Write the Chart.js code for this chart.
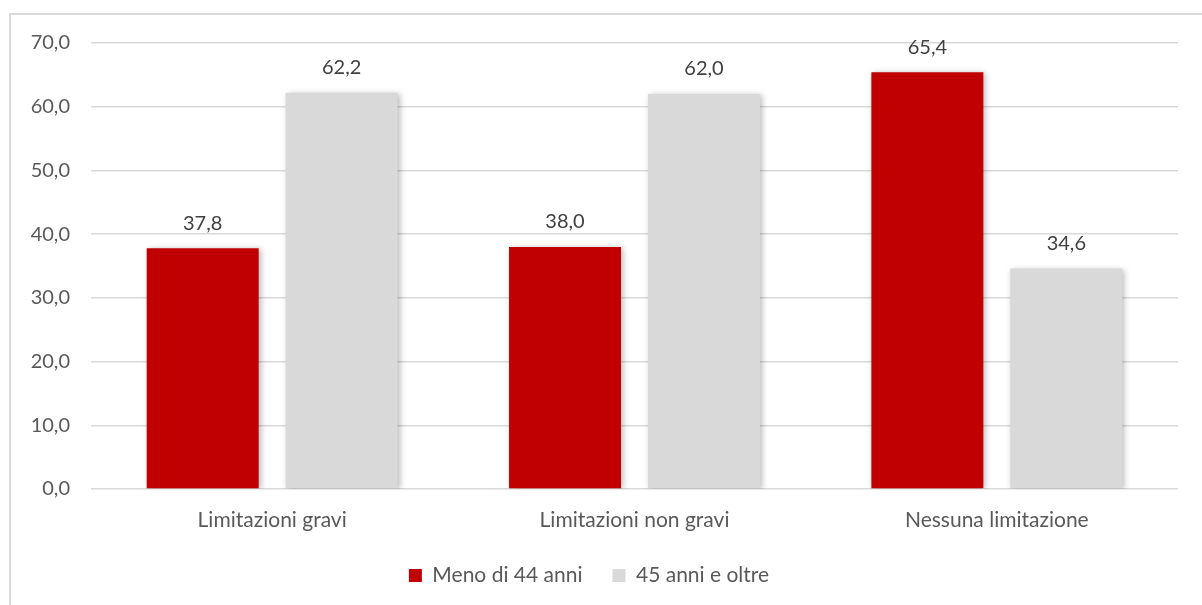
<!DOCTYPE html>
<html>
<head>
<meta charset="utf-8">
<script src="https://cdn.jsdelivr.net/npm/chart.js@4.4.0/dist/chart.umd.min.js"></script>
<style>
  body { margin: 0; background: #fff; overflow: hidden; }
  #frame { position: absolute; left: 9px; top: 13px; width: 1300px; height: 700px; border: 2px solid #d9d9d9; }
  #wrap { position: absolute; left: 0; top: 0; width: 1202px; height: 605px; }
</style>
</head>
<body>
<div id="frame"></div>
<div id="wrap"><canvas id="myChart"></canvas></div>
<script>
var categories = ["Limitazioni gravi", "Limitazioni non gravi", "Nessuna limitazione"];
var under44 = [37.8, 38.0, 65.4];
var over45 = [62.2, 62.0, 34.6];
var seriesNames = ["Meno di 44 anni", "45 anni e oltre"];

var FONT = 'Lato, "Open Sans", sans-serif';

function fmt(v) {
    return v.toFixed(1).replace('.', ',');
}

// soft shadow behind the bars
var barShadow = {
    id: 'barShadow',
    beforeDatasetsDraw: function (chart) {
        var ctx = chart.ctx;
        ctx.save();
        ctx.shadowColor = 'rgba(0,0,0,0.28)';
        ctx.shadowBlur = 6;
        ctx.shadowOffsetX = 2;
        ctx.shadowOffsetY = 1;
    },
    afterDatasetsDraw: function (chart) {
        chart.ctx.restore();
    }
};

// value labels above each bar
var valueLabels = {
    id: 'valueLabels',
    afterDatasetsDraw: function (chart) {
        var ctx = chart.ctx;
        ctx.save();
        ctx.font = '20px ' + FONT;
        ctx.fillStyle = '#404040';
        ctx.textAlign = 'center';
        ctx.textBaseline = 'middle';
        chart.data.datasets.forEach(function (ds, i) {
            chart.getDatasetMeta(i).data.forEach(function (bar, j) {
                ctx.fillText(fmt(ds.data[j]), bar.x, bar.y - 25);
            });
        });
        ctx.restore();
    }
};

function renderChart() {
    var ctx = document.getElementById("myChart").getContext('2d');
    var myChart = new Chart(ctx, {
        type: 'bar',
        data: {
            labels: categories,
            datasets: [{
                label: seriesNames[0],
                data: under44,
                backgroundColor: '#C00000'
            }, {
                label: seriesNames[1],
                data: over45,
                backgroundColor: '#D9D9D9'
            }]
        },
        options: {
            responsive: true,
            maintainAspectRatio: false,
            animation: false,
            categoryPercentage: 0.767,
            barPercentage: 0.806,
            layout: { padding: { top: 43, right: 24, left: 0, bottom: 9 } },
            scales: {
                x: {
                    grid: { display: false },
                    border: { display: false },
                    ticks: {
                        color: '#595959',
                        font: { family: FONT, size: 21 },
                        padding: 11
                    },
                    afterFit: function (scale) { scale.height = 46; }
                },
                y: {
                    min: 0,
                    max: 70,
                    ticks: {
                        stepSize: 10,
                        color: '#595959',
                        font: { family: FONT, size: 20 },
                        padding: 21,
                        callback: function (v) { return fmt(v); }
                    },
                    grid: { color: '#d9d9d9', lineWidth: 1.5, drawTicks: false },
                    border: { display: false },
                    afterFit: function (scale) { scale.width = 91; }
                }
            },
            plugins: {
                legend: {
                    position: 'bottom',
                    labels: {
                        boxWidth: 13,
                        boxHeight: 13,
                        padding: 30,
                        color: '#595959',
                        font: { family: FONT, size: 21 }
                    }
                },
                tooltip: { enabled: false }
            }
        },
        plugins: [barShadow, valueLabels]
    });
}

renderChart();
</script>
</body>
</html>
